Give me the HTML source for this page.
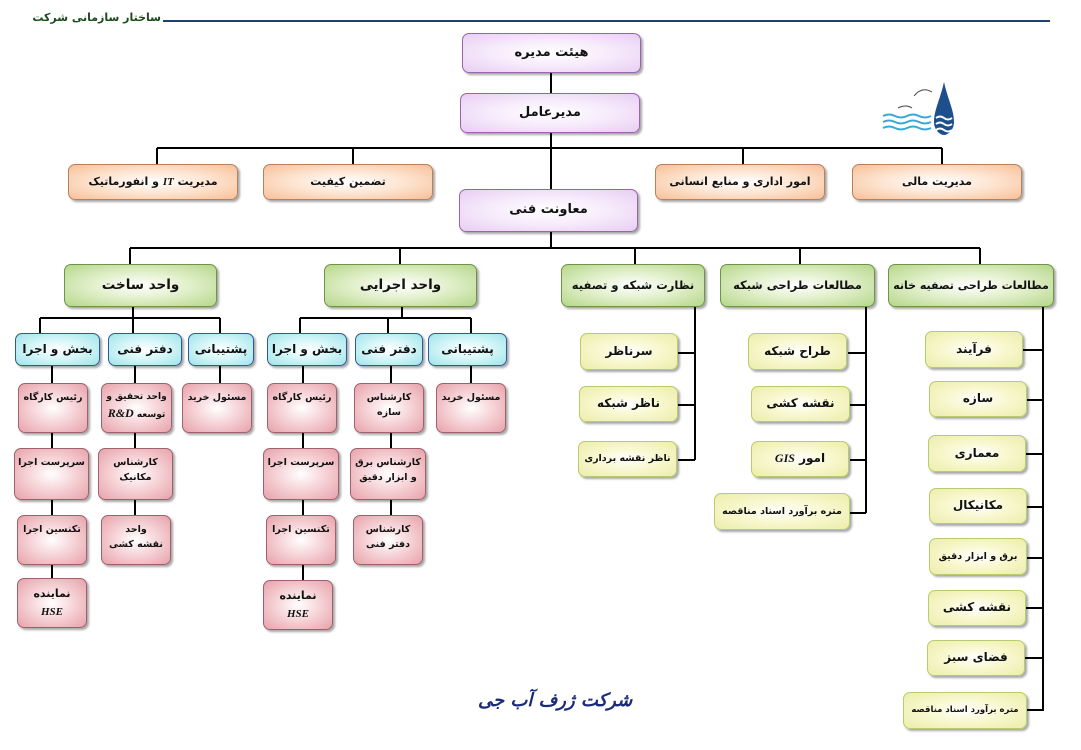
<!DOCTYPE html>
<html><head><meta charset="utf-8">
<style>
body{margin:0;width:1081px;height:750px;background:#fff;position:relative;overflow:hidden;font-family:"DejaVu Sans","Liberation Sans",sans-serif;}
.b{position:absolute;box-sizing:border-box;border-radius:7px;display:flex;align-items:center;justify-content:center;text-align:center;font-weight:bold;color:#111;line-height:1.6;box-shadow:2px 2px 2px rgba(0,0,0,0.35);white-space:nowrap;}
.b>span{direction:rtl;display:block;}
.p{background:radial-gradient(ellipse at center,#fff 0%,#f6eafb 50%,#e8cdf3 100%);border:1.5px solid #9b64ad;font-size:13px;}
.o{background:radial-gradient(ellipse at center,#fff 0%,#fde3cf 50%,#f7bf98 100%);border:1.5px solid #b8805c;font-size:11px;}
.g{background:radial-gradient(ellipse at center,#fff 0%,#e2f0cc 45%,#b5d78a 100%);border:1.5px solid #6f9448;font-size:13.5px;}
.c{background:radial-gradient(ellipse at center,#fff 0%,#d6f6f8 45%,#9fe4ea 100%);border:1.5px solid #2f5a96;font-size:12px;}
.k{background:radial-gradient(ellipse at center,#fff 0%,#f6d4d8 45%,#e7a2aa 100%);border:1.5px solid #a0606c;font-size:9.5px;align-items:flex-start;padding-top:6px;}
.y{background:radial-gradient(ellipse at center,#fff 0%,#f8f8d0 45%,#ecedaa 100%);border:1.5px solid #b7cc6c;font-size:12px;}
.sm{font-size:9.5px;}
i{font-family:"Liberation Serif",serif;}
</style></head><body>
<div style="position:absolute;right:920px;top:11px;font-size:11px;font-weight:bold;color:#1a4a1a;direction:rtl;white-space:nowrap;">ساختار سازمانی شرکت</div>
<div style="position:absolute;left:163px;top:20px;width:887px;height:2px;background:#1f3f70;"></div>

<svg width="1081" height="750" style="position:absolute;left:0;top:0" stroke="#000" stroke-width="2" fill="none">
<path d="M551 73V189M551 232V248M157 148H942M157 148V164M353 148V164M743 148V164M942 148V164"/>
<path d="M130 248H980M130 248V264M400 248V264M635 248V264M800 248V264M980 248V264"/>
<path d="M133 307V318M40 318H220M40 318V333M133 318V333M220 318V333"/>
<path d="M402 307V318M300 318H471M300 318V333M388 318V333M471 318V333"/>
<path d="M52 366V383M52 433V448M52 500V515M52 565V578"/>
<path d="M135 366V383M135 433V448M135 500V515"/>
<path d="M220 366V383"/>
<path d="M303 366V383M303 433V448M303 500V515M303 565V580"/>
<path d="M391 366V383M391 433V448M391 500V515"/>
<path d="M471 366V383"/>
<path d="M695 307V460M678 353H695M678 405H695M678 460H695"/>
<path d="M866 307V513M848 353H866M850 405H866M850 460H866M850 513H866"/>
<path d="M1043 307V711M1023 350H1043M1027 400H1043M1026 454H1043M1027 507H1043M1027 558H1043M1026 608H1043M1025 658H1043M1027 710H1043"/>
</svg>

<!-- logo -->
<svg width="90" height="60" style="position:absolute;left:878px;top:80px">
<path d="M66 2 C62 20 56 30 56 42 C56 50 62 55 66 55 C70 55 76 50 76 42 C76 30 70 20 66 2Z" fill="#1d4f8c"/>
<path d="M58 38q4-3 8 0t8 0M58 44q4-3 8 0t8 0M58 50q4-3 8 0t8 0" stroke="#fff" stroke-width="2" fill="none"/>
<path d="M5 36q6-3 12 0t12 0t12 0t12 0M5 42q6-3 12 0t12 0t12 0t12 0M5 48q6-3 12 0t12 0t12 0t12 0" stroke="#3aa8d8" stroke-width="2" fill="none"/>
<path d="M20 28q8-4 14 0M36 16q8-10 18-4" stroke="#444" stroke-width="1" fill="none"/>
</svg>

<div class="b p" style="left:462px;top:33px;width:179px;height:40px"><span>هیئت مدیره</span></div>
<div class="b p" style="left:460px;top:93px;width:180px;height:40px"><span>مدیرعامل</span></div>
<div class="b p" style="left:459px;top:189px;width:179px;height:43px"><span>معاونت فنی</span></div>

<div class="b o" style="left:68px;top:164px;width:170px;height:36px"><span>مدیریت <i>IT</i> و انفورماتیک</span></div>
<div class="b o" style="left:263px;top:164px;width:170px;height:36px"><span>تضمین کیفیت</span></div>
<div class="b o" style="left:655px;top:164px;width:170px;height:36px"><span>امور اداری و منابع انسانی</span></div>
<div class="b o" style="left:852px;top:164px;width:170px;height:36px"><span>مدیریت مالی</span></div>

<div class="b g" style="left:64px;top:264px;width:153px;height:43px"><span>واحد ساخت</span></div>
<div class="b g" style="left:324px;top:264px;width:153px;height:43px"><span>واحد اجرایی</span></div>
<div class="b g" style="left:561px;top:264px;width:144px;height:43px;font-size:11.5px"><span>نظارت شبکه و تصفیه</span></div>
<div class="b g" style="left:720px;top:264px;width:155px;height:43px;font-size:11.5px"><span>مطالعات طراحی شبکه</span></div>
<div class="b g" style="left:888px;top:264px;width:166px;height:43px;font-size:11px"><span>مطالعات طراحی تصفیه خانه</span></div>

<div class="b c" style="left:15px;top:333px;width:85px;height:33px"><span>بخش و اجرا</span></div>
<div class="b c" style="left:108px;top:333px;width:74px;height:33px"><span>دفتر فنی</span></div>
<div class="b c" style="left:188px;top:333px;width:66px;height:33px"><span>پشتیبانی</span></div>
<div class="b c" style="left:267px;top:333px;width:80px;height:33px"><span>بخش و اجرا</span></div>
<div class="b c" style="left:355px;top:333px;width:68px;height:33px"><span>دفتر فنی</span></div>
<div class="b c" style="left:428px;top:333px;width:79px;height:33px"><span>پشتیبانی</span></div>

<div class="b k" style="left:18px;top:383px;width:70px;height:50px"><span>رئیس کارگاه</span></div>
<div class="b k" style="left:14px;top:448px;width:75px;height:52px"><span>سرپرست اجرا</span></div>
<div class="b k" style="left:17px;top:515px;width:70px;height:50px"><span>تکنسین اجرا</span></div>
<div class="b k" style="left:17px;top:578px;width:70px;height:50px;font-size:11px"><span>نماینده<br><i>HSE</i></span></div>
<div class="b k" style="left:101px;top:383px;width:71px;height:50px;font-size:9px"><span>واحد تحقیق و<br>توسعه <i style="font-size:12px">R&amp;D</i></span></div>
<div class="b k" style="left:98px;top:448px;width:75px;height:52px"><span>کارشناس<br>مکانیک</span></div>
<div class="b k" style="left:101px;top:515px;width:70px;height:50px"><span>واحد<br>نقشه کشی</span></div>
<div class="b k" style="left:182px;top:383px;width:70px;height:50px"><span>مسئول خرید</span></div>

<div class="b k" style="left:267px;top:383px;width:70px;height:50px"><span>رئیس کارگاه</span></div>
<div class="b k" style="left:263px;top:448px;width:76px;height:52px"><span>سرپرست اجرا</span></div>
<div class="b k" style="left:266px;top:515px;width:70px;height:50px"><span>تکنسین اجرا</span></div>
<div class="b k" style="left:263px;top:580px;width:70px;height:50px;font-size:11px"><span>نماینده<br><i>HSE</i></span></div>
<div class="b k" style="left:354px;top:383px;width:70px;height:50px"><span>کارشناس<br>سازه</span></div>
<div class="b k" style="left:350px;top:448px;width:76px;height:52px"><span>کارشناس برق<br>و ابزار دقیق</span></div>
<div class="b k" style="left:353px;top:515px;width:70px;height:50px"><span>کارشناس<br>دفتر فنی</span></div>
<div class="b k" style="left:436px;top:383px;width:70px;height:50px"><span>مسئول خرید</span></div>

<div class="b y" style="left:580px;top:333px;width:98px;height:37px"><span>سرناظر</span></div>
<div class="b y" style="left:579px;top:386px;width:99px;height:36px"><span>ناظر شبکه</span></div>
<div class="b y sm" style="left:578px;top:441px;width:99px;height:36px"><span>ناظر نقشه برداری</span></div>

<div class="b y" style="left:748px;top:333px;width:99px;height:37px"><span>طراح شبکه</span></div>
<div class="b y" style="left:751px;top:386px;width:99px;height:36px"><span>نقشه کشی</span></div>
<div class="b y" style="left:751px;top:441px;width:98px;height:36px"><span>امور <i>GIS</i></span></div>
<div class="b y sm" style="left:714px;top:493px;width:136px;height:37px"><span>متره برآورد اسناد مناقصه</span></div>

<div class="b y" style="left:925px;top:331px;width:98px;height:37px"><span>فرآیند</span></div>
<div class="b y" style="left:929px;top:381px;width:98px;height:36px"><span>سازه</span></div>
<div class="b y" style="left:928px;top:435px;width:98px;height:37px"><span>معماری</span></div>
<div class="b y" style="left:929px;top:488px;width:98px;height:36px"><span>مکانیکال</span></div>
<div class="b y sm" style="left:929px;top:538px;width:98px;height:37px"><span>برق و ابزار دقیق</span></div>
<div class="b y" style="left:928px;top:590px;width:98px;height:36px"><span>نقشه کشی</span></div>
<div class="b y" style="left:927px;top:640px;width:98px;height:36px"><span>فضای سبز</span></div>
<div class="b y" style="left:903px;top:692px;width:124px;height:37px;font-size:8.5px"><span>متره برآورد اسناد مناقصه</span></div>

<div style="position:absolute;left:478px;top:690px;font-size:18px;font-weight:bold;font-style:italic;color:#1b2a7a;direction:rtl;white-space:nowrap;font-family:'DejaVu Serif','DejaVu Sans',serif;">شرکت ژرف آب جی</div>
</body></html>
